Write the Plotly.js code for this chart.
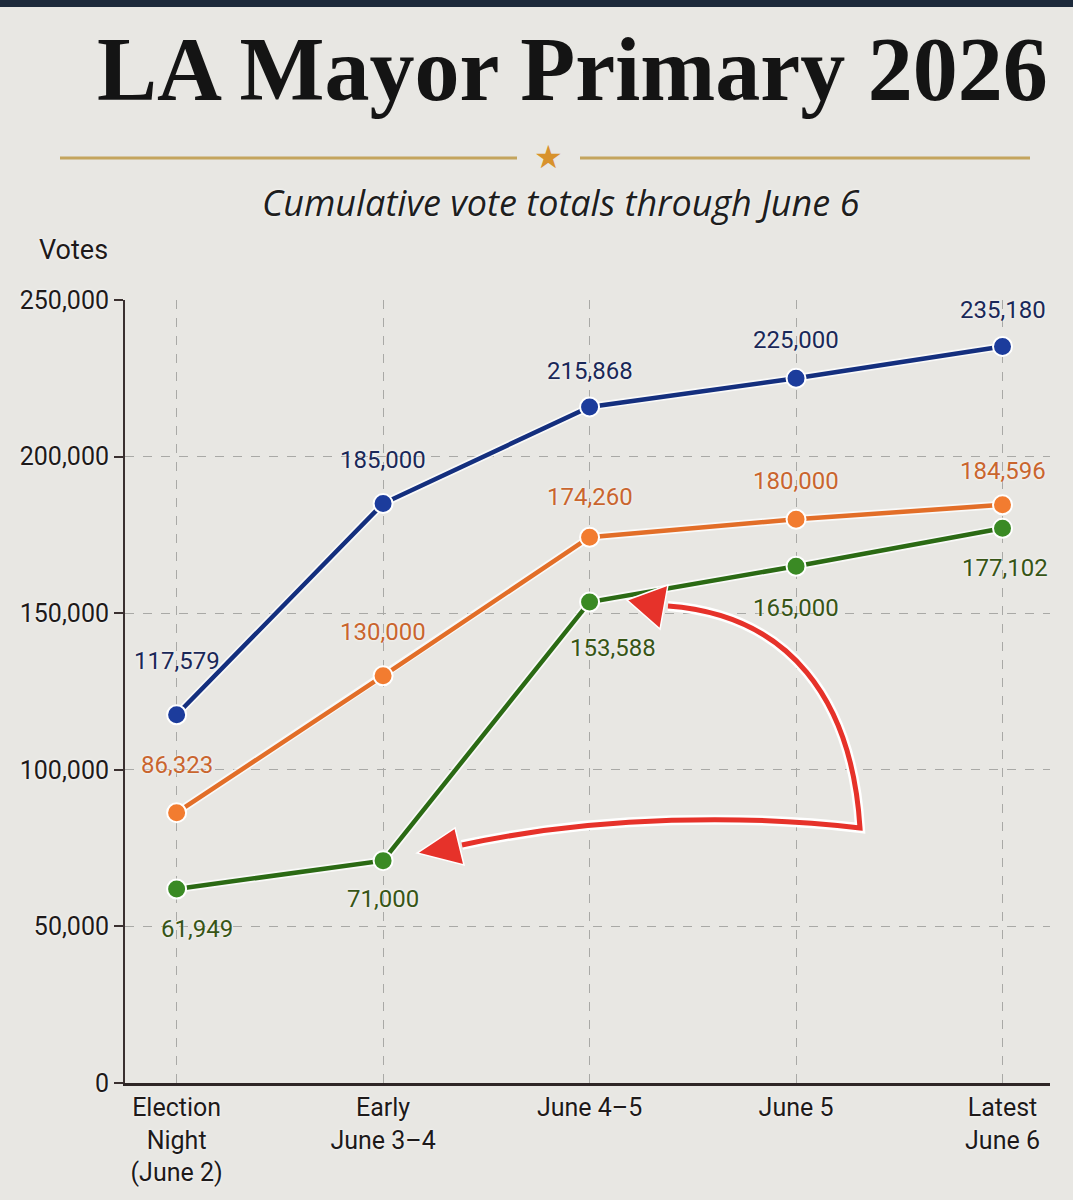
<!DOCTYPE html>
<html>
<head>
<meta charset="utf-8">
<script src="https://cdn.plot.ly/plotly-3.0.1.min.js"></script>
<style>html,body{margin:0;padding:0;background:#e8e7e3;}</style>
</head>
<body>
<div id="chart" style="width:1073px;height:1200px;"></div>
<script>
// ---- data ----
var categories = ["Election<br>Night<br>(June 2)", "Early<br>June 3–4", "June 4–5", "June 5", "Latest<br>June 6"];
var blueVotes = [117579, 185000, 215868, 225000, 235180];
var orangeVotes = [86323, 130000, 174260, 180000, 184596];
var greenVotes = [61949, 71000, 153588, 165000, 177102];
var yTickVals = [0, 50000, 100000, 150000, 200000, 250000];

// ---- styling ----
var W = 1073, H = 1200;
var M = {l: 125, r: 23, t: 300, b: 117};
var PW = W - M.l - M.r, PH = H - M.t - M.b;
function px(x) { return (x - M.l) / PW; }
function py(y) { return (H - M.b - y) / PH; }

var FONT = "'Roboto', 'Lato', sans-serif";
var HALO = "0px 0px 3px #ffffff";

var series = [
  {name: "Blue", v: blueVotes, line: "#142f7e", marker: "#1c3c9c", label: "#1a2858",
   dy: [54, 44, 36, 38, 36], dx: [0, 0, 0, 0, 0]},
  {name: "Orange", v: orangeVotes, line: "#e26e28", marker: "#f27c30", label: "#c9652e",
   dy: [48, 44, 40, 38, 34], dx: [0, 0, 0, 0, 0]},
  {name: "Green", v: greenVotes, line: "#2b6a14", marker: "#3a8a24", label: "#375516",
   dy: [-40, -38, -46, -42, -40], dx: [20, 0, 23, 0, 2]}
];

var traces = [];
series.forEach(function (s) {
  traces.push({
    x: categories, y: s.v, type: "scatter", mode: "lines",
    line: {color: "rgba(255,255,255,0.75)", width: 8},
    hoverinfo: "skip", showlegend: false
  });
});
series.forEach(function (s) {
  traces.push({
    x: categories, y: s.v, type: "scatter", mode: "lines+markers", name: s.name,
    line: {color: s.line, width: 4.5},
    marker: {color: s.marker, size: 19, line: {color: "#ffffff", width: 2}},
    showlegend: false
  });
});

function fmt(n) { return n.toLocaleString("en-US"); }

var annotations = [];
series.forEach(function (s) {
  s.v.forEach(function (val, j) {
    annotations.push({
      x: categories[j], y: val, xref: "x", yref: "y", text: fmt(val),
      showarrow: false, yshift: s.dy[j], xshift: s.dx[j],
      font: {family: FONT, size: 24, color: s.label, shadow: HALO}
    });
  });
});

annotations.push({
  xref: "paper", yref: "paper", x: px(572), y: py(70), xanchor: "center", yanchor: "middle",
  text: "<b>LA Mayor Primary 2026</b>", showarrow: false,
  font: {family: "'Liberation Serif', 'DejaVu Serif', serif", size: 90, color: "#141414"}
});
annotations.push({
  xref: "paper", yref: "paper", x: px(548), y: py(157), xanchor: "center", yanchor: "middle",
  text: "★", showarrow: false, font: {family: "'DejaVu Sans', sans-serif", size: 32, color: "#d8922c"}
});
annotations.push({
  xref: "paper", yref: "paper", x: px(561), y: py(203), xanchor: "center", yanchor: "middle",
  text: "<i>Cumulative vote totals through June 6</i>", showarrow: false,
  font: {family: "'Open Sans', sans-serif", size: 36, color: "#1e1e1e", shadow: HALO}
});
annotations.push({
  xref: "paper", yref: "paper", x: px(73), y: py(250), xanchor: "center", yanchor: "middle",
  text: "Votes", showarrow: false,
  font: {family: FONT, size: 27, color: "#1e1a1a", shadow: HALO}
});

function P(x, y) { return px(x).toFixed(4) + "," + py(y).toFixed(4); }
var arrowPath = "M" + P(462, 845) + " C" + P(600, 815) + " " + P(750, 815) + " " + P(860, 828) +
  " C" + P(852, 700) + " " + P(790, 615) + " " + P(668, 606);
var headUp = "M" + P(627, 600) + " L" + P(668, 585) + " L" + P(660, 629) + " Z";
var headLow = "M" + P(417, 853) + " L" + P(455, 828) + " L" + P(464, 865) + " Z";

var shapes = [
  {type: "rect", xref: "paper", yref: "paper", x0: px(0), x1: px(W), y0: py(7), y1: py(0),
   fillcolor: "#1d2a3b", line: {width: 0}, layer: "below"},
  {type: "line", xref: "paper", yref: "paper", x0: px(60), x1: px(517), y0: py(158), y1: py(158),
   line: {color: "#c4a55e", width: 3}},
  {type: "line", xref: "paper", yref: "paper", x0: px(580), x1: px(1030), y0: py(158), y1: py(158),
   line: {color: "#c4a55e", width: 3}},
  {type: "path", xref: "paper", yref: "paper", path: arrowPath, line: {color: "#ffffff", width: 10}},
  {type: "path", xref: "paper", yref: "paper", path: arrowPath, line: {color: "#e6322a", width: 5}},
  {type: "path", xref: "paper", yref: "paper", path: headUp, fillcolor: "#e6322a", line: {color: "#ffffff", width: 1.5}},
  {type: "path", xref: "paper", yref: "paper", path: headLow, fillcolor: "#e6322a", line: {color: "#ffffff", width: 1.5}}
];

var layout = {
  width: W, height: H,
  margin: M,
  paper_bgcolor: "#e8e7e3", plot_bgcolor: "#e8e7e3",
  showlegend: false,
  xaxis: {
    type: "category", range: [-0.25, 4.23],
    showline: true, linecolor: "#2e2626", linewidth: 3,
    showgrid: true, gridcolor: "#a9a9a6", griddash: "dash", gridwidth: 1,
    ticks: "", tickfont: {family: FONT, size: 25, color: "#1e1a1a", shadow: HALO},
    fixedrange: true, zeroline: false
  },
  yaxis: {
    range: [0, 250000], tickvals: yTickVals, tickformat: ",d",
    showline: true, linecolor: "#3a3030", linewidth: 2,
    ticks: "outside", ticklen: 9, tickwidth: 2, tickcolor: "#3a3030",
    showgrid: true, gridcolor: "#a9a9a6", griddash: "dash", gridwidth: 1,
    tickfont: {family: FONT, size: 25, color: "#1e1a1a", shadow: HALO},
    zeroline: false, fixedrange: true
  },
  annotations: annotations,
  shapes: shapes
};

Plotly.newPlot("chart", traces, layout, {displayModeBar: false, staticPlot: true});
</script>
</body>
</html>
